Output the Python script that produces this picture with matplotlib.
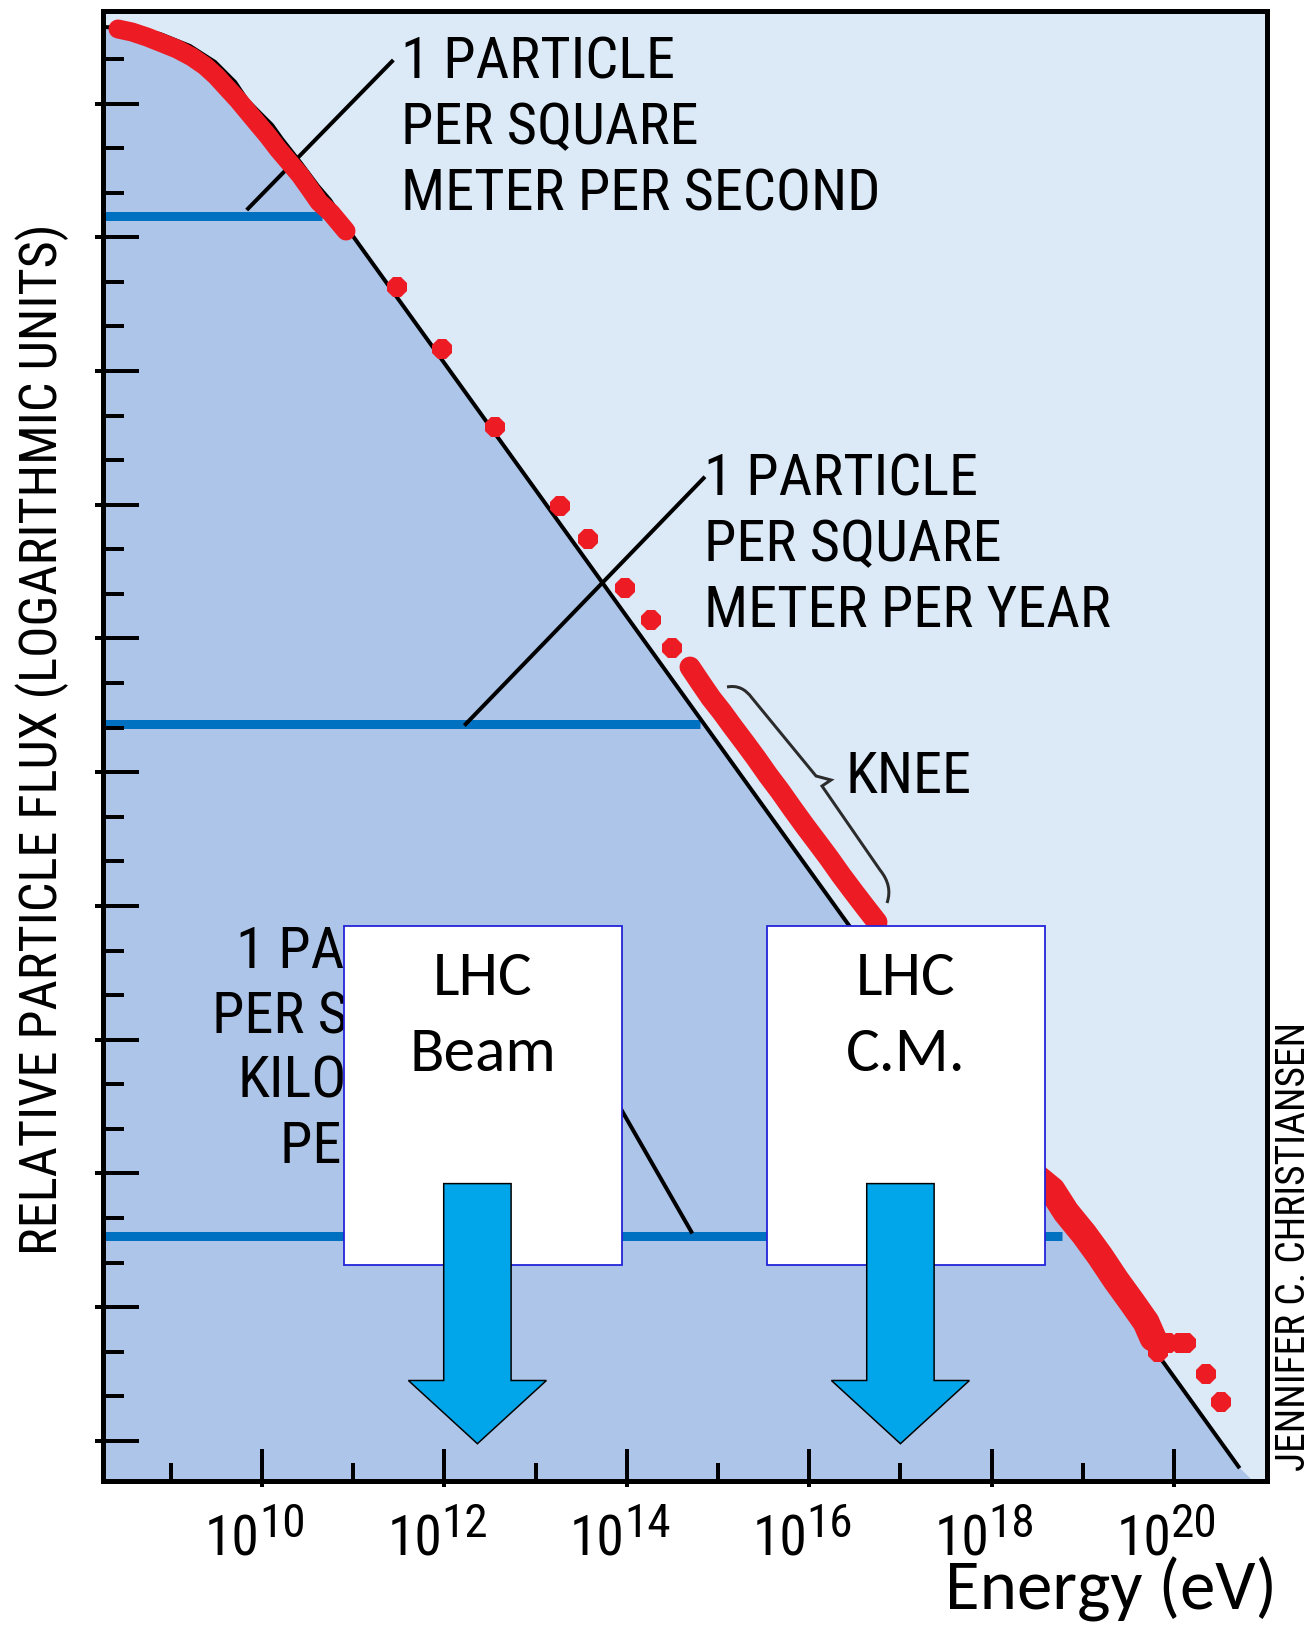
import matplotlib
matplotlib.use("Agg")

import matplotlib.pyplot as plt
import matplotlib.transforms as mtransforms
import numpy as np
from matplotlib import font_manager
from matplotlib.patches import PathPatch, Polygon, Rectangle
from matplotlib.path import Path
from matplotlib.ticker import FixedLocator, NullFormatter

# --- cosmic ray spectrum: log10(E / eV) and log10(relative flux) ---
SPECTRUM_LOG_E = [8.251, 8.553, 8.882, 9.211, 9.485, 9.704, 9.836, 9.978, 10.110,
                  10.219, 10.417, 10.614, 10.746, 10.877, 10.965, 20.707]
SPECTRUM_LOG_FLUX = [1.719, 1.696, 1.562, 1.292, 0.933, 0.485, 0.081, -0.211, -0.480,
                     -0.794, -1.310, -1.849, -2.163, -2.567, -2.881, -30.579]
SHADE_END_LOG_E = 20.86

# dense runs of measurements (drawn as continuous bands)
LOW_BAND_LOG_E = [8.421, 8.575, 8.739, 8.904, 9.068, 9.232, 9.375, 9.496, 9.616, 9.737,
                  9.846, 9.956, 10.066, 10.175, 10.296, 10.417, 10.526, 10.625, 10.757,
                  10.921]
LOW_BAND_LOG_FLUX = [1.674, 1.606, 1.494, 1.360, 1.225, 1.046, 0.844, 0.619, 0.350, 0.081,
                     -0.188, -0.458, -0.727, -1.019, -1.310, -1.602, -1.916, -2.208,
                     -2.455, -2.858]
KNEE_BAND_LOG_E = [14.693, 14.803, 14.923, 15.044, 15.164, 15.296, 15.417, 15.548, 15.680,
                   15.811, 15.954, 16.086, 16.217, 16.349, 16.480, 16.623, 16.743]
KNEE_BAND_LOG_FLUX = [-12.641, -12.977, -13.336, -13.650, -13.987, -14.346, -14.682,
                      -15.064, -15.423, -15.804, -16.208, -16.567, -16.926, -17.308,
                      -17.666, -18.048, -18.362]
ANKLE_BAND_LOG_E = [18.421, 18.662, 18.816, 19.013, 19.189, 19.364, 19.539, 19.693, 19.770]
ANKLE_BAND_LOG_FLUX = [-23.971, -24.375, -24.868, -25.362, -25.857, -26.395, -26.889,
                       -27.338, -27.697]

# isolated measurements
POINT_LOG_E = [11.480, 11.979, 12.559, 13.264, 13.570, 13.980, 14.264, 14.491,
               19.825, 19.934, 20.066, 20.132, 20.351, 20.515]
POINT_LOG_FLUX = [-4.115, -5.513, -7.256, -9.024, -9.769, -10.859, -11.582, -12.210,
                  -28.011, -27.809, -27.809, -27.809, -28.505, -29.134]

# reference flux levels
LEVEL_LABELS = [
    ["1 PARTICLE", "PER SQUARE", "METER PER SECOND"],
    ["1 PARTICLE", "PER SQUARE", "METER PER YEAR"],
    ["1 PARTICLE", "PER SQUARE", "KILOMETER", "PER YEAR"],
]
LEVEL_LOG_FLUX = [-2.522, -13.909, -25.394]
LEVEL_END_LOG_E = [10.658, 14.803, 18.772]
LEADER_LOG_E = [[9.832, 11.440], [12.218, 14.857], [13.706, 14.718]]
LEADER_LOG_FLUX = [[-2.387, 0.978], [-13.953, -8.371], [-21.737, -25.347]]

LHC_LABELS = [["LHC", "Beam"], ["LHC", "C.M."]]
LHC_ENERGY_EV = [2.3e12, 1.0e17]

X_MAJOR_EXP = [10, 12, 14, 16, 18, 20]
X_MINOR_EXP = [9, 11, 13, 15, 17, 19]
Y_MAJOR_EXP = list(range(0, -31, -3))
Y_MINOR_EXP = [e for e in range(1, -31, -1) if e % 3]

XLIM_LOG = (8.251, 21.014)
YLIM_LOG = (-30.89, 2.071)

# --- layout (pixels, origin top-left) ---
FIG_W, FIG_H, DPI = 1311, 1625, 100
AX_LEFT, AX_RIGHT, AX_TOP, AX_BOTTOM = 102.5, 1266.5, 11.3, 1480.5
AX_W_PX = AX_RIGHT - AX_LEFT
AX_H_PX = AX_BOTTOM - AX_TOP
PT = 72.0 / DPI

SKY = "#DCE9F7"
SHADE = "#ADC5E8"
RED = "#ED1C24"
LEVEL_BLUE = "#0070C0"
ARROW_BLUE = "#00A6E9"
BOX_EDGE = "#2323D9"

_available = {f.name for f in font_manager.fontManager.ttflist}


def first_font(*names):
    for name in names:
        if name in _available:
            return name
    return "DejaVu Sans"


NARROW = first_font("Liberation Sans Narrow", "Arial Narrow", "Roboto Condensed",
                    "Archivo Narrow", "DejaVu Sans")
ROUND = first_font("Carlito", "Calibri", "Lato", "Open Sans")


def ax_frac(px, py):
    return (px - AX_LEFT) / AX_W_PX, (AX_BOTTOM - py) / AX_H_PX


def energy_frac(e_ev):
    return (np.log10(e_ev) - XLIM_LOG[0]) / (XLIM_LOG[1] - XLIM_LOG[0])


def pow10(values):
    return 10.0 ** np.asarray(values, dtype=float)


fig = plt.figure(figsize=(FIG_W / DPI, FIG_H / DPI), dpi=DPI)
fig.patch.set_facecolor("white")
ax = fig.add_axes([AX_LEFT / FIG_W, 1 - AX_BOTTOM / FIG_H, AX_W_PX / FIG_W, AX_H_PX / FIG_H])
ax.set_xscale("log")
ax.set_yscale("log")
ax.set_xlim(10 ** XLIM_LOG[0], 10 ** XLIM_LOG[1])
ax.set_ylim(10 ** YLIM_LOG[0], 10 ** YLIM_LOG[1])
ax.set_facecolor(SKY)
ax.set_axisbelow(False)

spec_e = pow10(SPECTRUM_LOG_E)
spec_f = pow10(SPECTRUM_LOG_FLUX)
shade_e = np.append(spec_e, 10 ** SHADE_END_LOG_E)
shade_f = np.append(spec_f, 10 ** YLIM_LOG[0])
ax.fill_between(shade_e, shade_f, 10 ** (YLIM_LOG[0] - 1), color=SHADE, lw=0, zorder=1)

# flux level lines
for lf, le in zip(LEVEL_LOG_FLUX, LEVEL_END_LOG_E):
    ax.plot([10 ** XLIM_LOG[0], 10 ** le], [10 ** lf, 10 ** lf], color=LEVEL_BLUE,
            lw=9 * PT, solid_capstyle="butt", zorder=2)

# leader lines from the labels
for le, lf in zip(LEADER_LOG_E, LEADER_LOG_FLUX):
    ax.plot(pow10(le), pow10(lf), color="black", lw=4 * PT, solid_capstyle="butt", zorder=3)

ax.plot(spec_e, spec_f, color="black", lw=4 * PT, zorder=4)

# measurements
for be, bf, width in ((LOW_BAND_LOG_E, LOW_BAND_LOG_FLUX, 19),
                      (KNEE_BAND_LOG_E, KNEE_BAND_LOG_FLUX, 21),
                      (ANKLE_BAND_LOG_E, ANKLE_BAND_LOG_FLUX, 27)):
    ax.plot(pow10(be), pow10(bf), color=RED, lw=width * PT, solid_capstyle="round",
            solid_joinstyle="round", zorder=5)
ax.plot(pow10(POINT_LOG_E), pow10(POINT_LOG_FLUX), ls="none", marker="8", ms=15,
        color=RED, mec=RED, mew=0, zorder=5)

# level labels
label_layout = [(401, 78, 66, "left"), (704, 495, 66, "left"), (510, 968, 65, "right")]
for lines, (x0, y0, step, ha) in zip(LEVEL_LABELS, label_layout):
    for i, line in enumerate(lines):
        ax.text(*ax_frac(x0, y0 + i * step), line, transform=ax.transAxes, ha=ha,
                va="baseline", fontsize=42, family=NARROW, color="black", zorder=6)

ax.text(*ax_frac(845, 792.7), "KNEE", transform=ax.transAxes, ha="left", va="baseline",
        fontsize=42, family=NARROW, color="black", zorder=6)

brace_px = [(727, 687), (742, 684), (752, 698), (816, 776), (831, 780), (822, 786),
            (880, 870), (893, 886), (887, 903)]
brace_codes = [Path.MOVETO, Path.CURVE3, Path.CURVE3, Path.LINETO, Path.LINETO,
               Path.LINETO, Path.LINETO, Path.CURVE3, Path.CURVE3]
ax.add_patch(PathPatch(Path([ax_frac(*p) for p in brace_px], brace_codes),
                       transform=ax.transAxes, fc="none", ec="#2b2b2b", lw=3 * PT, zorder=6))

# LHC boxes and arrows
tip_y = ax_frac(0, 1443.7)[1]
box_bottom = ax_frac(0, 1264.5)[1]
box_h = (1264.5 - 925.5) / AX_H_PX
arrow_shape = [(-33.7, 260.1), (33.7, 260.1), (33.7, 63.2), (69.0, 63.2), (0, 0),
               (-69.0, 63.2), (-33.7, 63.2)]
for lines, e_ev in zip(LHC_LABELS, LHC_ENERGY_EV):
    tip_x = energy_frac(e_ev)
    cx = tip_x + 5.5 / AX_W_PX
    ax.add_patch(Rectangle((cx - 139 / AX_W_PX, box_bottom), 278 / AX_W_PX, box_h,
                           transform=ax.transAxes, fc="white", ec=BOX_EDGE, lw=1.8 * PT,
                           zorder=7))
    for line, base in zip(lines, (995, 1071)):
        ax.text(cx, ax_frac(0, base)[1], line, transform=ax.transAxes, ha="center",
                va="baseline", fontsize=45.5, family=ROUND, color="black", zorder=9)
    verts = [(tip_x + dx / AX_W_PX, tip_y + dy / AX_H_PX) for dx, dy in arrow_shape]
    ax.add_patch(Polygon(verts, closed=True, transform=ax.transAxes, fc=ARROW_BLUE,
                         ec="black", lw=1.5 * PT, joinstyle="miter", zorder=8))

# axes frame and ticks
for side in ("top", "right", "bottom", "left"):
    ax.spines[side].set_linewidth(5 * PT)
    ax.spines[side].set_color("black")
ax.xaxis.set_major_locator(FixedLocator([10.0 ** e for e in X_MAJOR_EXP]))
ax.xaxis.set_minor_locator(FixedLocator([10.0 ** e for e in X_MINOR_EXP]))
ax.yaxis.set_major_locator(FixedLocator([10.0 ** e for e in Y_MAJOR_EXP]))
ax.yaxis.set_minor_locator(FixedLocator([10.0 ** e for e in Y_MINOR_EXP]))
for axis in (ax.xaxis, ax.yaxis):
    axis.set_major_formatter(NullFormatter())
    axis.set_minor_formatter(NullFormatter())
ax.tick_params(axis="y", which="major", direction="in", length=35.5 * PT, width=4 * PT)
ax.tick_params(axis="y", which="minor", direction="in", length=20.5 * PT, width=4 * PT)
ax.tick_params(axis="x", which="major", direction="in", length=32 * PT, width=4 * PT)
ax.tick_params(axis="x", which="minor", direction="in", length=18 * PT, width=4 * PT)

# short outward stubs on the major ticks
y_blend = mtransforms.blended_transform_factory(ax.transAxes, ax.transData)
for e in Y_MAJOR_EXP:
    ax.plot([-7.5 / AX_W_PX, 0], [10.0 ** e] * 2, transform=y_blend, color="black",
            lw=4 * PT, solid_capstyle="butt", clip_on=False, zorder=6)
x_blend = mtransforms.blended_transform_factory(ax.transData, ax.transAxes)
for e in X_MAJOR_EXP:
    ax.plot([10.0 ** e] * 2, [-6.2 / AX_H_PX, 0], transform=x_blend, color="black",
            lw=4 * PT, solid_capstyle="butt", clip_on=False, zorder=6)

# power-of-ten tick labels
base_y = ax_frac(0, 1555)[1]
sup_y = ax_frac(0, 1537)[1]
for e in X_MAJOR_EXP:
    ax.text(10.0 ** e, base_y, "10", ha="right", va="baseline", fontsize=40, family=NARROW,
            transform=mtransforms.offset_copy(x_blend, fig=fig, x=-2, units="dots"),
            clip_on=False)
    ax.text(10.0 ** e, sup_y, str(e), ha="left", va="baseline", fontsize=34, family=NARROW,
            transform=mtransforms.offset_copy(x_blend, fig=fig, x=-3, units="dots"),
            clip_on=False)

fig.text(57 / FIG_W, 1 - 739.5 / FIG_H, "RELATIVE PARTICLE FLUX (LOGARITHMIC UNITS)",
         rotation=90, rotation_mode="anchor", ha="center", va="baseline",
         fontsize=37.7, family=NARROW)
fig.text(1305 / FIG_W, 1 - 1246.5 / FIG_H, "JENNIFER C. CHRISTIANSEN",
         rotation=90, rotation_mode="anchor", ha="center", va="baseline",
         fontsize=28.5, family=NARROW)
fig.text(1277 / FIG_W, 1 - 1609 / FIG_H, "Energy (eV)", ha="right", va="baseline",
         fontsize=51, family=ROUND)

fig.savefig("out.png", dpi=DPI)
